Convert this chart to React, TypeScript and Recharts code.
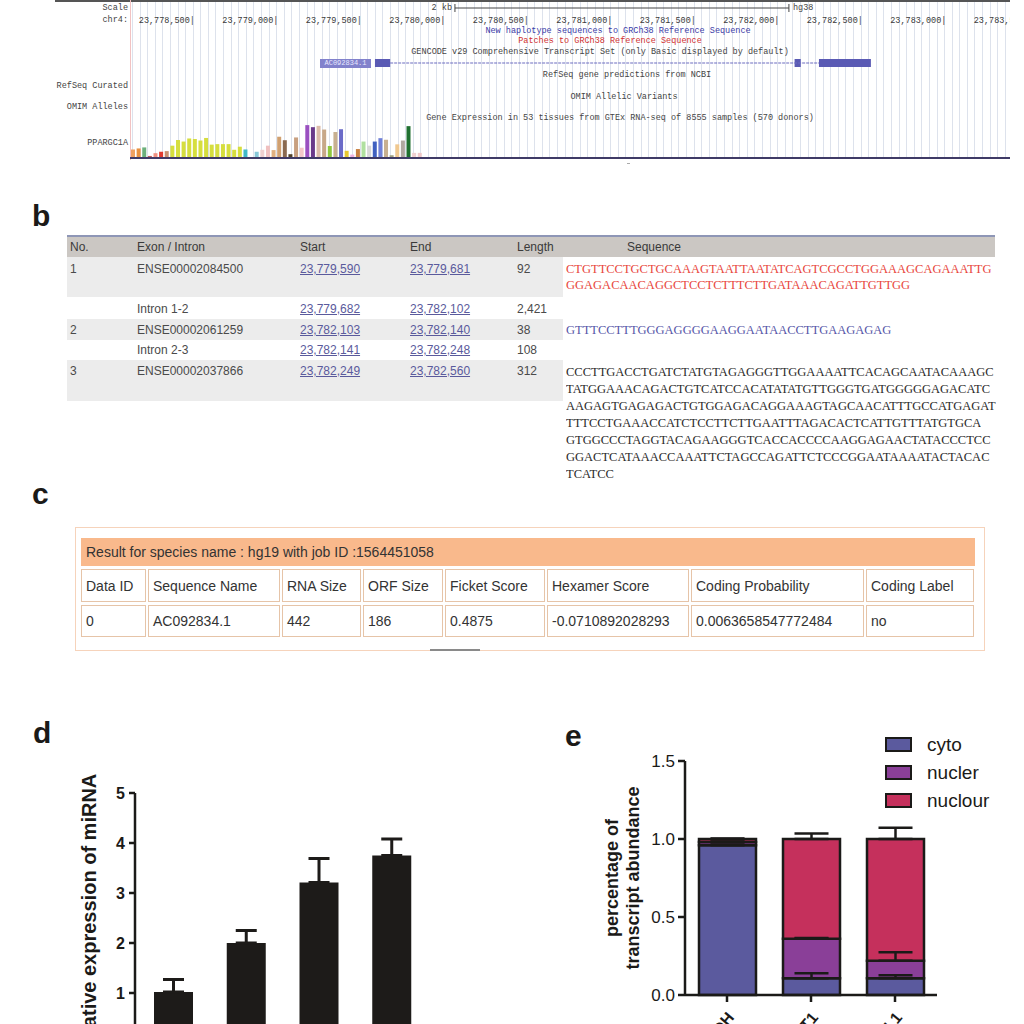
import React from "react";
import { BarChart, Bar, ComposedChart, XAxis, YAxis, Cell, ErrorBar, ReferenceArea, ReferenceLine } from "recharts";

const SANS = "'Liberation Sans', Arial, Helvetica, sans-serif";
const NARROW = "'Liberation Sans Narrow', 'Arial Narrow', 'Liberation Sans', sans-serif";
const MONO = "'Liberation Mono', 'DejaVu Sans Mono', monospace";
const SERIF = "'Liberation Serif', 'Times New Roman', serif";
const INK = "#1b1a18";

// ---- a: browser window on chr4 (hg38) ----
const VIEW_RANGE = [23778123, 23783393];
const RULER_TICKS = [23778500, 23779000, 23779500, 23780000, 23780500, 23781000, 23781500, 23782000, 23782500, 23783000, 23783500];
const SCALE_BAR = [23780069, 23782069];
const EXON_START = [23779590, 23782103, 23782249];
const EXON_END = [23779681, 23782140, 23782560];

const GTEX_TISSUES = [
  "Adipose Subcutaneous", "Adipose Visceral", "Adrenal Gland", "Artery Aorta", "Artery Coronary", "Artery Tibial", "Bladder",
  "Brain Amygdala", "Brain Anterior Cingulate", "Brain Caudate", "Brain Cerebellar Hemisphere", "Brain Cerebellum", "Brain Cortex",
  "Brain Frontal Cortex", "Brain Hippocampus", "Brain Hypothalamus", "Brain Nucleus Accumbens", "Brain Putamen", "Brain Spinal Cord",
  "Brain Substantia Nigra", "Breast", "EBV Lymphocytes", "Fibroblasts", "Cervix Ectocervix", "Cervix Endocervix", "Colon Sigmoid",
  "Colon Transverse", "Esophagus GE Junction", "Esophagus Mucosa", "Esophagus Muscularis", "Fallopian Tube", "Heart Atrial Appendage",
  "Heart Left Ventricle", "Kidney Cortex", "Liver", "Lung", "Minor Salivary Gland", "Muscle Skeletal", "Nerve Tibial", "Ovary",
  "Pancreas", "Pituitary", "Prostate", "Skin Not Sun Exposed", "Skin Sun Exposed", "Small Intestine", "Spleen", "Stomach", "Testis",
  "Thyroid", "Uterus", "Vagina", "Whole Blood",
];
const GTEX_TPM = [
  8.3, 9.3, 10.3, 2, 4.7, 6, 6.7,
  12, 17.5, 16, 19, 18.5, 17, 19.5, 13, 13.5, 13.5, 13.5, 8, 11,
  8.3, 0.5, 6, 8, 12, 7.7, 20.7, 17.3, 3.7, 20, 10,
  32, 30, 31.3, 27.7, 11.7, 25.3, 28, 7, 3.3,
  8.7, 16, 12, 16, 19.3, 17.7, 2.7, 13.3, 17, 31, 5, 5, 0.5,
];
const GTEX_COLORS = [
  "#f0a060", "#e89040", "#6cb07c", "#c05a5a", "#f09080", "#e03a30", "#c89070",
  "#d6de3e", "#d6de3e", "#d6de3e", "#d6de3e", "#d6de3e", "#d6de3e", "#d6de3e", "#d6de3e", "#d6de3e", "#d6de3e", "#d6de3e", "#d6de3e", "#d6de3e",
  "#40b8c8", "#c080e0", "#88c8d8", "#f0d0d0", "#f0c0c0", "#e0b080", "#d0a070", "#8b6a50", "#504028", "#c8a080", "#f4c8c8",
  "#9a50c0", "#6a3a8a", "#dcbcaa", "#c8a888", "#90c840", "#c8b090", "#6a6ac8", "#e8c830", "#f0b0e0",
  "#c88040", "#b0e0a0", "#d8d8d8", "#4060c0", "#7080d8", "#c8b090", "#a0a080", "#f0c890", "#b0a8a0", "#207030", "#f0d0d0", "#f0c8c8", "#f080c0",
];

// ---- b: exon / intron table ----
const B_NO = ["1", "", "2", "", "3"];
const B_FEATURE = ["ENSE00002084500", "Intron 1-2", "ENSE00002061259", "Intron 2-3", "ENSE00002037866"];
const B_START = [23779590, 23779682, 23782103, 23782141, 23782249];
const B_END = [23779681, 23782102, 23782140, 23782248, 23782560];
const SEQ_EXON1 = ["CTGTTCCTGCTGCAAAGTAATTAATATCAGTCGCCTGGAAAGCAGAAATTG", "GGAGACAACAGGCTCCTCTTTCTTGATAAACAGATTGTTGG"];
const SEQ_EXON2 = ["GTTTCCTTTGGGAGGGGAAGGAATAACCTTGAAGAGAG"];
const SEQ_EXON3 = [
  "CCCTTGACCTGATCTATGTAGAGGGTTGGAAAATTCACAGCAATACAAAGC",
  "TATGGAAACAGACTGTCATCCACATATATGTTGGGTGATGGGGGAGACATC",
  "AAGAGTGAGAGACTGTGGAGACAGGAAAGTAGCAACATTTGCCATGAGAT",
  "TTTCCTGAAACCATCTCCTTCTTGAATTTAGACACTCATTGTTTATGTGCA",
  "GTGGCCCTAGGTACAGAAGGGTCACCACCCCAAGGAGAACTATACCCTCC",
  "GGACTCATAAACCAAATTCTAGCCAGATTCTCCCGGAATAAAATACTACAC",
  "TCATCC",
];

// ---- c: CPAT result ----
const C_TITLE = "Result for species name : hg19 with job ID :1564451058";
const C_HEAD = ["Data ID", "Sequence Name", "RNA Size", "ORF Size", "Ficket Score", "Hexamer Score", "Coding Probability", "Coding Label"];
const C_ROW = ["0", "AC092834.1", "442", "186", "0.4875", "-0.0710892028293", "0.0063658547772484", "no"];

// ---- d: relative expression ----
const D_GROUPS = ["1", "2", "3", "4"];
const D_MEAN = [1.02, 2.0, 3.21, 3.75];
const D_SD = [0.25, 0.25, 0.48, 0.33];

// ---- e: subcellular fractions ----
const E_GROUPS = ["GAPDH", "MALAT1", "AC092834.1"];
const E_CYTO = [0.96, 0.107, 0.107];
const E_NUCLER = [0.02, 0.253, 0.113];
const E_NUCLOUR = [0.02, 0.64, 0.78];
const E_CYTO_SD = [0.004, 0.032, 0.02];
const E_NUCLER_SD = [0.004, 0.006, 0.054];
const E_NUCLOUR_SD = [0.004, 0.035, 0.072];
const E_SERIES = [
  { key: "cyto", name: "cyto", color: "#5b5a9e" },
  { key: "nucler", name: "nucler", color: "#8a3f98" },
  { key: "nuclour", name: "nuclour", color: "#c5305c" },
];

function Txt({ x, y, a = "start", style, children }: any) {
  const tx = a === "end" ? "-100%" : a === "middle" ? "-50%" : "0";
  return (
    <div style={{ position: "absolute", left: x, top: y, transform: `translate(${tx}, -50%)`, whiteSpace: "nowrap", lineHeight: 1, ...style }}>
      {children}
    </div>
  );
}

function Box({ x, y, w, h, style }: any) {
  return <div style={{ position: "absolute", left: x, top: y, width: w, height: h, ...style }} />;
}

function PanelLetter({ x, y, children }: any) {
  return <Txt x={x} y={y} style={{ fontFamily: SANS, fontWeight: "bold", fontSize: 30, color: INK }}>{children}</Txt>;
}

function RulerTick(props: any) {
  const { x, payload } = props;
  return (
    <text x={x + 2} y={23} textAnchor="end" fontFamily={MONO} fontSize={8.5} fill="#3a3a3a">
      {Number(payload.value).toLocaleString("en-US")}|
    </text>
  );
}

function PanelA() {
  const mono = { fontFamily: MONO, fontSize: 8.5, color: "#444" };
  const exons = EXON_START.map((s, i) => ({ start: s, end: EXON_END[i] }));
  const gtex = GTEX_TISSUES.map((t, i) => ({ tissue: t, tpm: GTEX_TPM[i] }));
  return (
    <>
      <Box x={55} y={0} w={955} h={2} style={{ background: "#555" }} />
      <Box x={130} y={2} w={880} h={156} style={{ backgroundImage: "repeating-linear-gradient(to right, #dde2ec 0 1px, transparent 1px 7.59px)", backgroundPosition: "2px 0" }} />
      <Box x={130} y={0} w={1} h={160} style={{ background: "#f2c2c2" }} />
      <Txt x={128} y={8} a="end" style={mono}>Scale</Txt>
      <Txt x={128} y={20} a="end" style={mono}>chr4:</Txt>
      <Txt x={452} y={8} a="end" style={mono}>2 kb</Txt>
      <Txt x={793} y={8} style={mono}>hg38</Txt>
      <Txt x={618} y={31} a="middle" style={{ ...mono, color: "#3a3aa6" }}>New haplotype sequences to GRCh38 Reference Sequence</Txt>
      <Txt x={610} y={41} a="middle" style={{ ...mono, color: "#d03030" }}>Patches to GRCh38 Reference Sequence</Txt>
      <Txt x={600} y={52} a="middle" style={mono}>GENCODE v29 Comprehensive Transcript Set (only Basic displayed by default)</Txt>
      <Txt x={627} y={75} a="middle" style={mono}>RefSeq gene predictions from NCBI</Txt>
      <Txt x={128} y={86} a="end" style={mono}>RefSeq Curated</Txt>
      <Txt x={624} y={97} a="middle" style={mono}>OMIM Allelic Variants</Txt>
      <Txt x={128} y={107} a="end" style={mono}>OMIM Alleles</Txt>
      <Txt x={620} y={118} a="middle" style={mono}>Gene Expression in 53 tissues from GTEx RNA-seq of 8555 samples (570 donors)</Txt>
      <Txt x={128} y={143} a="end" style={mono}>PPARGC1A</Txt>
      <div style={{ position: "absolute", left: 320, top: 59, width: 51, height: 9, background: "#8282cc", color: "#e8e8ff", fontFamily: MONO, fontSize: 7, lineHeight: "9px", textAlign: "center" }}>AC092834.1</div>
      <div style={{ position: "absolute", left: 130, top: 0 }}>
        <ComposedChart width={880} height={160} data={exons} margin={{ top: 0, right: 0, bottom: 0, left: 0 }}>
          <XAxis type="number" dataKey="start" domain={VIEW_RANGE} allowDataOverflow orientation="top" height={28}
            ticks={RULER_TICKS} interval={0} tick={<RulerTick />} axisLine={false} tickLine={false} />
          <YAxis hide type="number" domain={[28, 160]} reversed allowDataOverflow />
          <ReferenceLine segment={[{ x: SCALE_BAR[0], y: 8 }, { x: SCALE_BAR[1], y: 8 }]} stroke="#444" ifOverflow="visible" />
          <ReferenceLine segment={[{ x: SCALE_BAR[0], y: 4 }, { x: SCALE_BAR[0], y: 12 }]} stroke="#444" ifOverflow="visible" />
          <ReferenceLine segment={[{ x: SCALE_BAR[1], y: 4 }, { x: SCALE_BAR[1], y: 12 }]} stroke="#444" ifOverflow="visible" />
          <ReferenceLine segment={[{ x: EXON_END[0], y: 63 }, { x: EXON_START[2], y: 63 }]} stroke="#6c6cc0" strokeWidth={1.2} strokeDasharray="3 1" ifOverflow="visible" />
          {exons.map((e, i) => (
            <ReferenceArea key={i} x1={e.start} x2={e.end} y1={59} y2={67} fill="#5a5ab4" fillOpacity={1} stroke="none" ifOverflow="visible" />
          ))}
        </ComposedChart>
      </div>
      <div style={{ position: "absolute", left: 130, top: 121 }}>
        <BarChart width={298} height={37} data={gtex} margin={{ top: 0, right: 0, bottom: 0, left: 0 }} barSize={4}>
          <XAxis hide dataKey="tissue" />
          <YAxis hide domain={[0, 36]} />
          <Bar dataKey="tpm" isAnimationActive={false}>
            {gtex.map((_, i) => <Cell key={i} fill={GTEX_COLORS[i]} />)}
          </Bar>
        </BarChart>
      </div>
      <Box x={130} y={157} w={880} h={2} style={{ background: "#3f3a66" }} />
      <Box x={627} y={163} w={3} h={1} style={{ background: "#aaa" }} />
    </>
  );
}

function PanelB() {
  const rowTop = [257, 297, 319, 340, 360];
  const rowH = [40, 22, 21, 20, 41];
  const rowY = [269, 309, 330, 350, 371];
  const cell = { fontFamily: SANS, fontSize: 12, color: "#4a4a4a" };
  const link = { ...cell, color: "#5a5a9c", textDecoration: "underline" };
  const seq = { fontFamily: SERIF, fontSize: 12.5, maxWidth: 434, overflow: "hidden" };
  return (
    <>
      <PanelLetter x={32} y={216}>b</PanelLetter>
      <Box x={67} y={235} w={928} h={2} style={{ background: "#8e96b6" }} />
      <Box x={67} y={237} w={928} h={20} style={{ background: "#cbc7c3" }} />
      {rowTop.map((t, i) => (i % 2 === 0 ? <Box key={i} x={67} y={t} w={496} h={rowH[i]} style={{ background: "#ececec" }} /> : null))}
      <Txt x={70} y={247} style={{ ...cell, color: "#3a3a3a" }}>No.</Txt>
      <Txt x={137} y={247} style={{ ...cell, color: "#3a3a3a" }}>Exon / Intron</Txt>
      <Txt x={300} y={247} style={{ ...cell, color: "#3a3a3a" }}>Start</Txt>
      <Txt x={410} y={247} style={{ ...cell, color: "#3a3a3a" }}>End</Txt>
      <Txt x={517} y={247} style={{ ...cell, color: "#3a3a3a" }}>Length</Txt>
      <Txt x={627} y={247} style={{ ...cell, color: "#3a3a3a" }}>Sequence</Txt>
      {B_FEATURE.map((f, i) => (
        <React.Fragment key={i}>
          <Txt x={70} y={rowY[i]} style={cell}>{B_NO[i]}</Txt>
          <Txt x={137} y={rowY[i]} style={cell}>{f}</Txt>
          <Txt x={300} y={rowY[i]} style={link}>{B_START[i].toLocaleString("en-US")}</Txt>
          <Txt x={410} y={rowY[i]} style={link}>{B_END[i].toLocaleString("en-US")}</Txt>
          <Txt x={517} y={rowY[i]} style={cell}>{(B_END[i] - B_START[i] + 1).toLocaleString("en-US")}</Txt>
        </React.Fragment>
      ))}
      {SEQ_EXON1.map((s, i) => <Txt key={"a" + i} x={566} y={269 + 16 * i} style={{ ...seq, color: "#e8463c" }}>{s}</Txt>)}
      {SEQ_EXON2.map((s, i) => <Txt key={"b" + i} x={566} y={330} style={{ ...seq, color: "#5656a8" }}>{s}</Txt>)}
      {SEQ_EXON3.map((s, i) => <Txt key={"c" + i} x={566} y={372 + 17 * i} style={{ ...seq, color: "#2a2a2a" }}>{s}</Txt>)}
    </>
  );
}

function PanelC() {
  const colX = [81, 148, 282, 363, 445, 547, 691, 866, 976];
  const txt = { fontFamily: NARROW, fontSize: 14, color: "#333" };
  return (
    <>
      <PanelLetter x={32} y={494}>c</PanelLetter>
      <Box x={75} y={527} w={910} h={124} style={{ border: "1px solid #f6d3bb", boxSizing: "border-box" }} />
      <Box x={81} y={538} w={894} h={28} style={{ background: "#f9b98c" }} />
      <Txt x={86} y={552} style={txt}>{C_TITLE}</Txt>
      {[C_HEAD, C_ROW].map((row, r) =>
        row.map((v, i) => (
          <div key={r + "-" + i} style={{ position: "absolute", left: colX[i], top: r === 0 ? 569 : 605, width: colX[i + 1] - colX[i] - 2, height: r === 0 ? 33 : 32, border: "1px solid #e6c4a8", boxSizing: "border-box" }}>
            <Txt x={4} y={r === 0 ? 16 : 15} style={txt}>{v}</Txt>
          </div>
        ))
      )}
      <Box x={430} y={649} w={50} h={2} style={{ background: "#8a8a8a" }} />
    </>
  );
}

function PanelD() {
  const data = D_GROUPS.map((g, i) => ({ name: g, mean: D_MEAN[i], err: [0, D_SD[i]] }));
  const yLabel = () => (
    <text x={96} y={156} transform="rotate(-90 96 156)" textAnchor="middle" fontFamily={SANS} fontSize={20} fontWeight="bold" fill={INK}>
      Relative expression of miRNA
    </text>
  );
  return (
    <>
      <PanelLetter x={33} y={733}>d</PanelLetter>
      <div style={{ position: "absolute", left: 0, top: 760 }}>
        <BarChart width={440} height={320} data={data} margin={{ top: 33, right: 12, bottom: 7, left: 95 }} barSize={39}>
          <XAxis dataKey="name" height={30} padding={{ left: 2, right: 0 }} axisLine={{ stroke: INK, strokeWidth: 2.5 }} tickLine={{ stroke: INK, strokeWidth: 2.5 }}
            tick={{ fontFamily: SANS, fontSize: 16, fontWeight: "bold", fill: INK }} />
          <YAxis width={40} domain={[0, 5]} ticks={[0, 1, 2, 3, 4, 5]} tickSize={6} tickMargin={4}
            axisLine={{ stroke: INK, strokeWidth: 2.5 }} tickLine={{ stroke: INK, strokeWidth: 2.5 }}
            tick={{ fontFamily: SANS, fontSize: 16, fontWeight: "bold", fill: INK }} label={yLabel} />
          <Bar dataKey="mean" fill="#1d1b19" isAnimationActive={false}>
            <ErrorBar dataKey="err" direction="y" width={10.5} strokeWidth={3} stroke="#1d1b19" />
          </Bar>
        </BarChart>
      </div>
    </>
  );
}

function RotTick(props: any) {
  const { x, y, payload } = props;
  return (
    <g transform={`translate(${x + 8},${y + 14})`}>
      <text textAnchor="end" transform="rotate(-50)" fontFamily={SANS} fontSize={16} fontWeight="bold" fill={INK}>
        {payload.value}
      </text>
    </g>
  );
}

function PanelE() {
  const data = E_GROUPS.map((g, i) => ({
    name: g,
    cyto: E_CYTO[i], nucler: E_NUCLER[i], nuclour: E_NUCLOUR[i],
    cytoErr: [0, E_CYTO_SD[i]], nuclerErr: [0, E_NUCLER_SD[i]], nuclourErr: [0, E_NUCLOUR_SD[i]],
  }));
  const yLabel = () => (
    <text x={58} y={158} transform="rotate(-90 58 158)" textAnchor="middle" fontFamily={SANS} fontSize={18} fontWeight="bold" fill={INK}>
      <tspan x={58} dy={0}>percentage of</tspan>
      <tspan x={58} dy={21}>transcript abundance</tspan>
    </text>
  );
  return (
    <>
      <PanelLetter x={565} y={736}>e</PanelLetter>
      <div style={{ position: "absolute", left: 560, top: 720 }}>
        <BarChart width={460} height={360} data={data} margin={{ top: 41, right: 83, bottom: 0, left: 80 }} barSize={57}>
          <XAxis dataKey="name" height={85} interval={0} tickSize={7} axisLine={{ stroke: INK, strokeWidth: 2.5 }} tickLine={{ stroke: INK, strokeWidth: 2.5 }} tick={<RotTick />} />
          <XAxis xAxisId="err" dataKey="name" hide />
          <YAxis width={45} domain={[0, 1.5]} ticks={[0, 0.5, 1, 1.5]} tickFormatter={(v: number) => v.toFixed(1)} tickSize={7} tickMargin={3}
            axisLine={{ stroke: INK, strokeWidth: 2.5 }} tickLine={{ stroke: INK, strokeWidth: 2.5 }}
            tick={{ fontFamily: SANS, fontSize: 17, fill: INK }} label={yLabel} />
          {E_SERIES.map((s) => (
            <Bar key={s.key} dataKey={s.key} stackId="frac" fill={s.color} stroke={INK} strokeWidth={2.5} isAnimationActive={false} />
          ))}
          {E_SERIES.map((s) => (
            <Bar key={"e" + s.key} xAxisId="err" dataKey={s.key} stackId="err" fill="none" stroke="none" isAnimationActive={false}>
              <ErrorBar dataKey={s.key + "Err"} direction="y" width={17} strokeWidth={2.5} stroke={INK} />
            </Bar>
          ))}
        </BarChart>
      </div>
      {E_SERIES.map((s, i) => (
        <React.Fragment key={s.key}>
          <Box x={885} y={737 + 28 * i} w={27} h={15} style={{ background: s.color, border: `2.5px solid ${INK}`, boxSizing: "border-box" }} />
          <Txt x={927} y={744 + 28 * i} style={{ fontFamily: SANS, fontSize: 19, color: INK }}>{s.name}</Txt>
        </React.Fragment>
      ))}
    </>
  );
}

export default function App() {
  return (
    <div style={{ position: "absolute", left: 0, top: 0, width: 1024, height: 1024, overflow: "hidden", background: "#fff" }}>
      <PanelA />
      <PanelB />
      <PanelC />
      <PanelD />
      <PanelE />
    </div>
  );
}
